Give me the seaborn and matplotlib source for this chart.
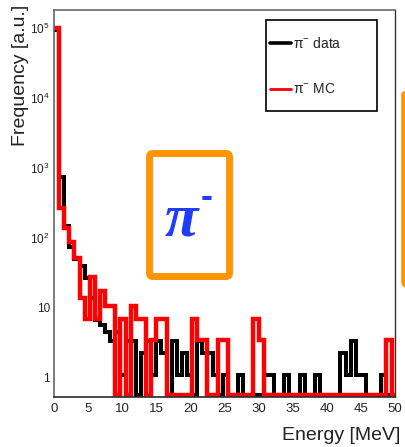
import numpy as np
import pandas as pd
import matplotlib
matplotlib.use("Agg")
import matplotlib.pyplot as plt
import seaborn as sns
from matplotlib.patches import FancyBboxPatch, Rectangle
from matplotlib.lines import Line2D
from matplotlib.ticker import MultipleLocator, NullLocator

# energy histograms, 0.75 MeV bins starting at 0 (67 bins)
BIN_WIDTH = 0.75
data_counts = [
    92000, 750, 150, 75, 50, 40, 27, 14, 6.8, 5.7,
    4.5, 3.4, 4.5, 1.1, 3.4, 3.4, 0, 2.3, 3.4, 1.1,
    3.4, 2.3, 0, 3.4, 1.1, 2.3, 1.1, 0, 3.4, 2.3,
    2.3, 1.1, 0, 1.1, 0, 0, 1.1, 0, 0, 0,
    0, 1.1, 1.1, 0, 0, 1.1, 0, 0, 1.1, 0,
    0, 1.1, 0, 0, 0, 0, 2.3, 1.1, 3.4, 1.1,
    1.1, 0, 0, 0, 1.1, 0, 0,
]
mc_counts = [
    98000, 268, 140, 88, 52, 14, 7, 28, 7, 17.5,
    10.5, 10.5, 0, 7, 0, 10.5, 7, 7, 0, 3.5,
    7, 7, 0, 0, 0, 0, 0, 7, 3.5, 3.5,
    0, 0, 3.5, 3.5, 0, 0, 0, 0, 0, 7,
    3.5, 0, 0, 0, 0, 0, 0, 0, 0, 0,
    0, 0, 0, 0, 0, 0, 0, 0, 0, 0,
    0, 0, 0, 0, 0, 3.5, 0,
]
x_ticks = [0, 5, 10, 15, 20, 25, 30, 35, 40, 45, 50]
y_ticks = [1, 10, 1e2, 1e3, 1e4, 1e5]
y_tick_labels = ["1", "10", "$10^{2}$", "$10^{3}$", "$10^{4}$", "$10^{5}$"]

Y_MIN, Y_MAX = 0.544, 1.8e5
ZERO_LEVEL = 0.57  # empty bins are drawn on the frame bottom, ROOT style

W, H = 405, 447


def fx(px):
    return px / W


def fy(py):
    return 1 - py / H


sns.set_theme(style="white")
plt.rcParams["font.family"] = ["Liberation Sans", "DejaVu Sans"]
plt.rcParams["mathtext.fontset"] = "custom"
plt.rcParams["mathtext.rm"] = "Liberation Sans"
plt.rcParams["mathtext.it"] = "Liberation Sans:italic"

n_bins = len(data_counts)
edges = [i * BIN_WIDTH for i in range(n_bins + 1)]
hist_df = pd.DataFrame({
    "energy": [e + BIN_WIDTH / 2 for e in edges[:-1]],
    "data": [v if v > 0 else ZERO_LEVEL for v in data_counts],
    "mc": [v if v > 0 else ZERO_LEVEL for v in mc_counts],
})

fig = plt.figure(figsize=(W / 100, H / 100), dpi=100)
ax = fig.add_axes([fx(54), fy(396.5), 341 / W, 386.5 / H])

sns.histplot(data=hist_df, x="energy", weights="data", bins=edges,
             element="step", fill=False, color="black", linewidth=2.9,
             ax=ax, solid_joinstyle="miter")
sns.histplot(data=hist_df, x="energy", weights="mc", bins=edges,
             element="step", fill=False, color="#ff0000", linewidth=3.2,
             ax=ax, solid_joinstyle="miter")

ax.set_yscale("log")
ax.set_xlim(0, 50)
ax.set_ylim(Y_MIN, Y_MAX)

ax.set_xticks(x_ticks)
ax.set_xticklabels([str(t) for t in x_ticks])
ax.xaxis.set_minor_locator(MultipleLocator(1))
ax.set_yticks(y_ticks)
ax.set_yticklabels(y_tick_labels)
ax.yaxis.set_minor_locator(NullLocator())
ax.tick_params(axis="x", which="major", direction="in", length=9, width=0.8,
               color="#333333", labelsize=9.5, labelcolor="#222222", pad=4.5)
ax.tick_params(axis="x", which="minor", direction="in", length=4.5, width=0.8,
               color="#333333")
ax.tick_params(axis="y", which="major", length=0, labelsize=8.5,
               labelcolor="#222222", pad=3)

for side in ["top", "left"]:
    ax.spines[side].set_color("#666666")
    ax.spines[side].set_linewidth(1.2)
ax.spines["right"].set_color("#333333")
ax.spines["right"].set_linewidth(1.0)
ax.spines["bottom"].set_color("#333333")

ax.set_xlabel("Energy [MeV]", fontsize=14, color="#222222", loc="right")
ax.xaxis.set_label_coords(1.015, -0.079)
ax.set_ylabel("Frequency [a.u.]", fontsize=14, color="#222222", loc="top")
ax.yaxis.set_label_coords(-0.072, 1.013)

# legend box (ROOT TLegend look)
fig.add_artist(Rectangle((fx(266), fy(111)), 111 / W, 91 / H,
                         transform=fig.transFigure, facecolor="white",
                         edgecolor="black", linewidth=1.2))
fig.add_artist(Line2D([fx(270), fx(291)], [fy(43), fy(43)],
                      transform=fig.transFigure, color="black", linewidth=2.6))
fig.add_artist(Line2D([fx(270), fx(291)], [fy(89), fy(89)],
                      transform=fig.transFigure, color="#ff0000", linewidth=2.0))
fig.text(fx(293), fy(43), "π$^{-}$ data", fontsize=10, va="center", ha="left")
fig.text(fx(293), fy(89), "π$^{-}$ MC", fontsize=10, va="center", ha="left")

# orange frame with the particle label
orange = "#ff9500"
fig.add_artist(FancyBboxPatch((fx(149.5), fy(276.5)), 80 / W, 123 / H,
                              boxstyle="round,pad=0,rounding_size=0.008",
                              transform=fig.transFigure, fill=False,
                              edgecolor=orange, linewidth=5))
fig.add_artist(FancyBboxPatch((fx(404), fy(285)), 0.3, 194 / H,
                              boxstyle="round,pad=0,rounding_size=0.008",
                              transform=fig.transFigure, fill=False,
                              edgecolor=orange, linewidth=4))
fig.text(fx(181), fy(221), "π", fontsize=44, style="italic", weight="bold",
         family="Liberation Serif", color="#1f3dff", ha="center", va="center")
fig.text(fx(207), fy(197), "-", fontsize=26, weight="bold",
         color="#1f3dff", ha="center", va="center")

fig.savefig("out.png", dpi=100)
